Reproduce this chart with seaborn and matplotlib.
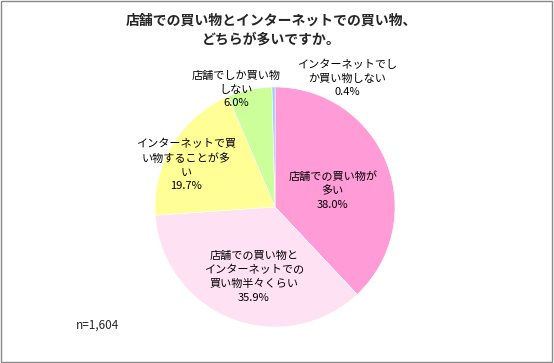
import matplotlib.pyplot as plt
import seaborn as sns
import numpy as np

# データ
categories = ['店舗での買い物が\n多い',
              '店舗での買い物と\nインターネットでの\n買い物半々くらい',
              'インターネットで買\nい物することが多\nい',
              '店舗でしか買い物\nしない',
              'インターネットでし\nか買い物しない']
values = [38.0, 35.9, 19.7, 6.0, 0.4]
colors = ['#FF9BD7', '#FFE1F4', '#FFFF96', '#CCFF99', '#99CCFF']
# ラベルの位置（中心からの距離, 角度の補正）
label_r = [0.50, 0.61, 0.82, 1.03, 1.23]
label_dang = [-5.6, 4.5, 6.5, 6, -30]

sns.set_theme(style='white')
plt.rcParams['font.family'] = ['Noto Sans CJK JP', 'DejaVu Sans']

fig = plt.figure(figsize=(5.54, 3.63), dpi=100)
fig.patch.set_facecolor('white')
ax = fig.add_axes([0.2798, 0.0992, 0.4332, 0.6612])

wedges, _ = ax.pie(values, colors=colors, startangle=90, counterclock=False,
                   wedgeprops=dict(linewidth=0.4, edgecolor='white'))
ax.set_xlim(-1, 1)
ax.set_ylim(-1, 1)
ax.set_aspect('equal')

for w, cat, v, r, da in zip(wedges, categories, values, label_r, label_dang):
    ang = np.deg2rad((w.theta1 + w.theta2) / 2 + da)
    ax.text(r * np.cos(ang), r * np.sin(ang), f'{cat}\n{v:.1f}%',
            ha='center', va='center', fontsize=8, linespacing=1.45,
            color='black', clip_on=False)

fig.text(0.49, 0.917, '店舗での買い物とインターネットでの買い物、\nどちらが多いですか。',
         ha='center', va='center', fontsize=10, fontweight='bold', linespacing=1.45)
fig.text(0.137, 0.105, 'n=1,604', ha='left', va='center', fontsize=8.5)

# 外枠
fig.patches.append(plt.Rectangle((0.002, 0.003), 0.995, 0.993, transform=fig.transFigure,
                                 fill=False, edgecolor='#888888', linewidth=1))

fig.savefig('out.png', dpi=100)
